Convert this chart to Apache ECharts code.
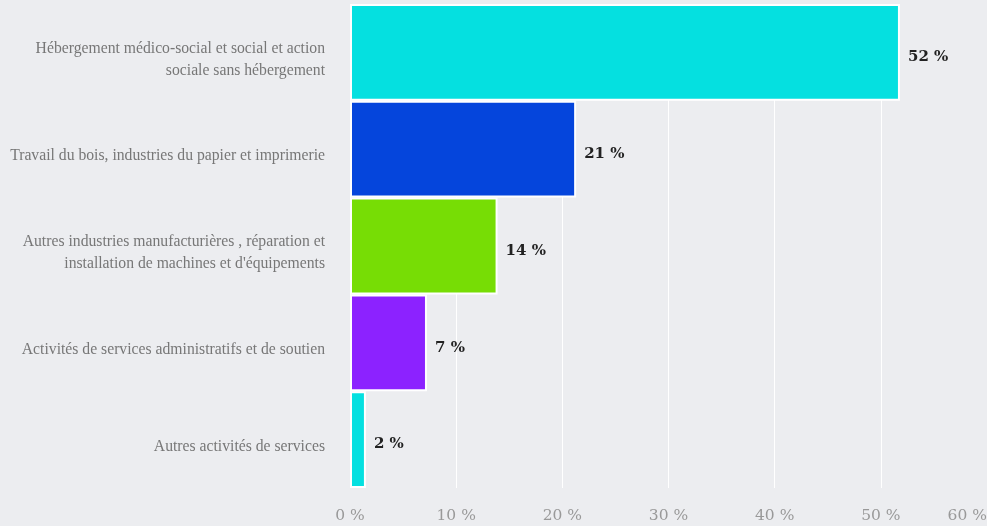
<!DOCTYPE html>
<html><head><meta charset="utf-8">
<script src="https://cdn.jsdelivr.net/npm/echarts@6/dist/echarts.min.js"></script>
<style>html,body{margin:0;padding:0;background:#ecedf0}#c{width:987px;height:526px}</style>
</head><body><div id="c"></div>
<script>
const categories = [
  "Hébergement médico-social et social et action\nsociale sans hébergement",
  "Travail du bois, industries du papier et imprimerie",
  "Autres industries manufacturières , réparation et\ninstallation de machines et d'équipements",
  "Activités de services administratifs et de soutien",
  "Autres activités de services"
];
const values = [51.8, 21.3, 13.9, 7.25, 1.5];
const valueLabels = ["52 %", "21 %", "14 %", "7 %", "2 %"];
const colors = ["#05e0e0", "#0545dc", "#77dd05", "#8c22ff", "#05e0e0"];
const ticks = [0, 10, 20, 30, 40, 50, 60];

const chart = echarts.init(document.getElementById('c'));
chart.setOption({
  backgroundColor: '#ecedf0',
  animation: false,
  grid: [
    {left: 350, right: 0, top: 4, bottom: 38, outerBoundsMode: 'none', containLabel: false},
    {left: 350, right: 0, top: 11, bottom: 31, outerBoundsMode: 'none', containLabel: false}
  ],
  xAxis: [{
    type: 'value', gridIndex: 0, min: ticks[0], max: ticks[ticks.length-1], interval: 10,
    axisLine: {show: false}, axisTick: {show: false},
    splitLine: {show: true, lineStyle: {color: '#ffffff', width: 1}},
    axisLabel: {formatter: v => v + ' %', color: '#999', fontFamily: 'DejaVu Serif', fontSize: 15.5, margin: 20, alignMaxLabel: 'right'}
  }, {
    type: 'value', gridIndex: 1, min: ticks[0], max: ticks[ticks.length-1], show: false
  }],
  yAxis: [{
    type: 'category', gridIndex: 0, data: categories, inverse: true,
    axisLine: {show: false}, axisTick: {show: false}, axisLabel: {show: false}
  }, {
    type: 'category', gridIndex: 1, data: categories, inverse: true,
    axisLine: {show: false}, axisTick: {show: false}, splitLine: {show: false},
    axisLabel: {color: '#777', fontFamily: 'Liberation Serif', fontSize: 15.7, margin: 25, align: 'right', lineHeight: 22}
  }],
  series: [{
    type: 'bar', xAxisIndex: 0, yAxisIndex: 0,
    data: values.map((v, i) => ({value: v, itemStyle: {color: colors[i]}})),
    barCategoryGap: '0%',
    itemStyle: {borderColor: '#ffffff', borderWidth: 2},
    label: {
      show: true, position: 'right', distance: 8, offset: [0, 5],
      formatter: p => valueLabels[p.dataIndex],
      fontFamily: 'DejaVu Serif', fontWeight: 'bold', fontSize: 15, color: '#222'
    }
  }]
});
</script></body></html>
